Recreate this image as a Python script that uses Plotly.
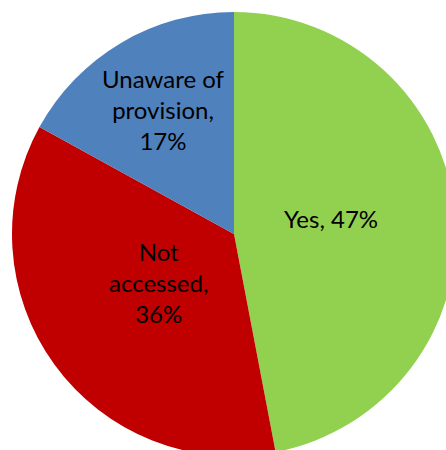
import math
import plotly.graph_objects as go

# Survey responses
categories = ["Yes", "Not accessed", "Unaware of provision"]
values = [47, 36, 17]
label_text = ["Yes, 47%", "Not<br>accessed,<br>36%", "Unaware of<br>provision,<br>17%"]
colors = ["#92D050", "#C00000", "#4F81BD"]

# radial placement of each label as a fraction of the radius
label_radius = [0.44, 0.42, 0.62]

fig = go.Figure(
    go.Pie(
        labels=categories,
        values=values,
        sort=False,
        direction="clockwise",
        rotation=0,
        marker=dict(colors=colors, line=dict(width=0)),
        textinfo="none",
        hoverinfo="label+percent",
        showlegend=False,
    )
)

# Label annotations centred at each slice's mid-angle
total = sum(values)
start = 0.0
annotations = []
for cat, val, txt, f in zip(categories, values, label_text, label_radius):
    mid = (start + val / 2) / total * 2 * math.pi
    start += val
    x = 0.5 + 0.5 * f * math.sin(mid)
    y = 0.5 + 0.5 * f * math.cos(mid)
    annotations.append(
        dict(
            x=x, y=y, xref="paper", yref="paper",
            xanchor="center", yanchor="middle", yshift=6,
            text=txt, showarrow=False,
            font=dict(family="Lato, Open Sans, sans-serif", size=24, color="#000000"),
            align="center",
        )
    )

fig.update_layout(
    width=456,
    height=456,
    margin=dict(l=12, r=0, t=12, b=0),
    paper_bgcolor="white",
    plot_bgcolor="white",
    annotations=annotations,
)

fig.write_html(
    "out.html",
    post_script="document.body.style.margin='0';document.body.style.overflow='hidden';document.documentElement.style.overflow='hidden';",
)
